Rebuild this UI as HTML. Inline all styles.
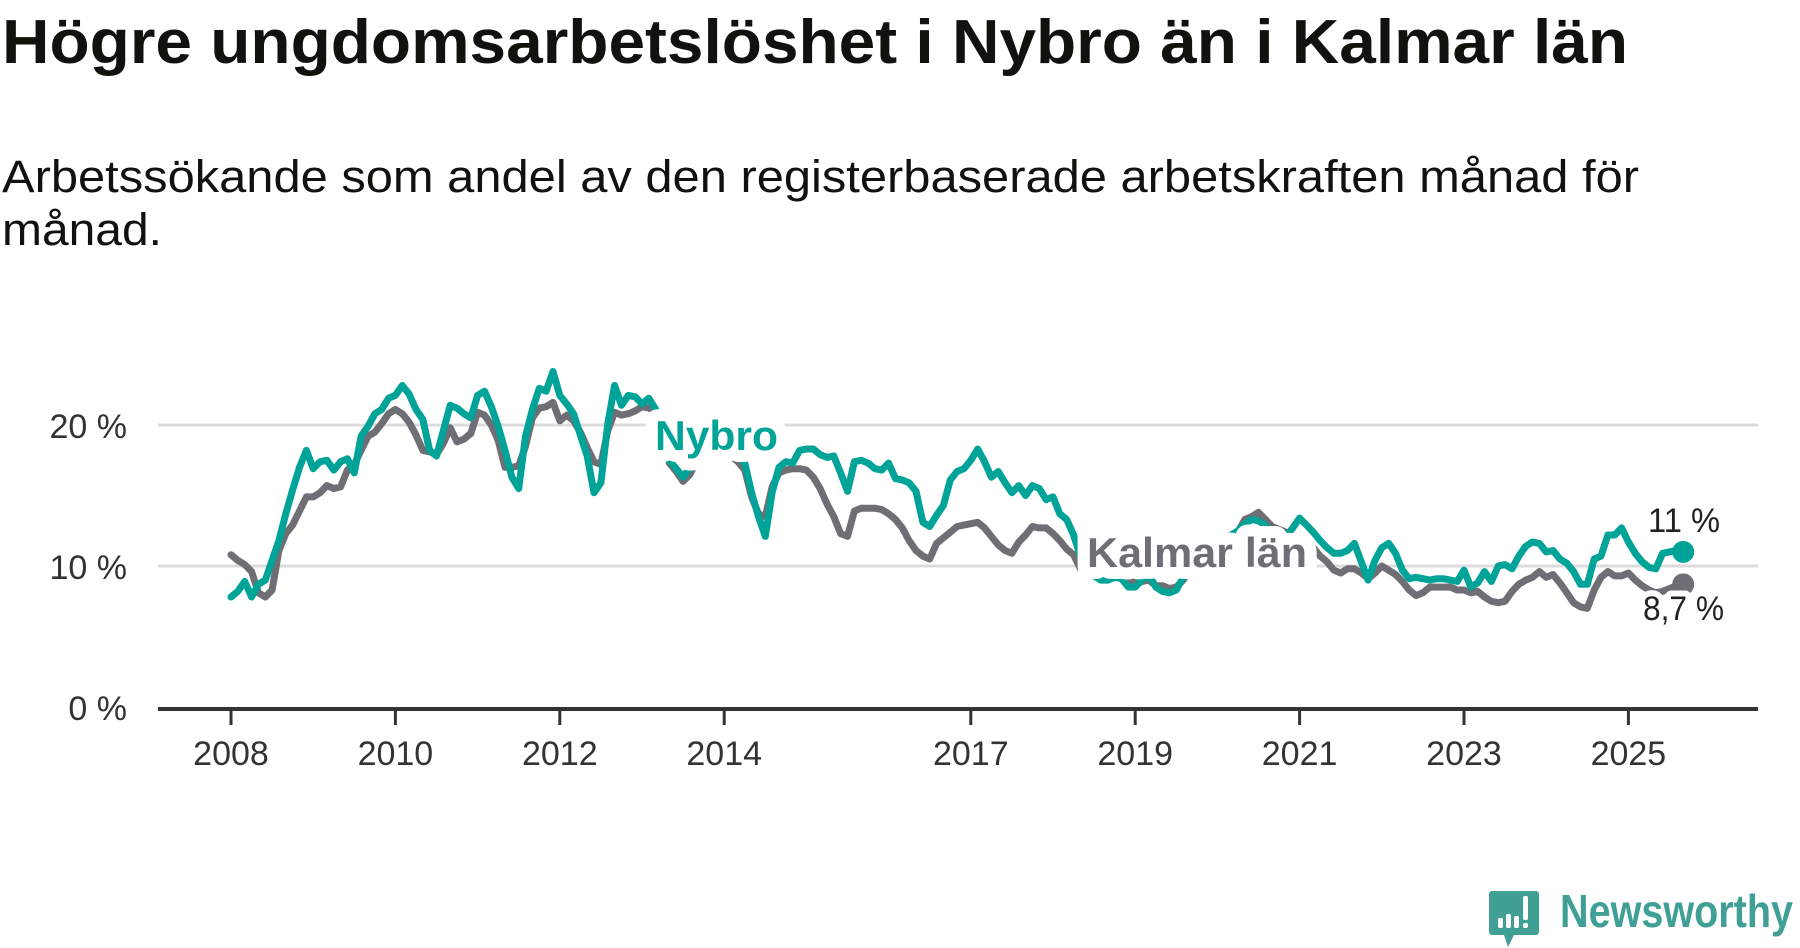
<!DOCTYPE html>
<html><head><meta charset="utf-8">
<style>
html,body{margin:0;padding:0;background:#fff;width:1800px;height:948px;overflow:hidden;}
svg{display:block;font-family:"Liberation Sans",sans-serif;}
</style></head>
<body>
<svg id="chart" width="1800" height="948" viewBox="0 0 1800 948">
  <text x="2" y="63" font-size="62" font-weight="bold" fill="#11110d" textLength="1626" lengthAdjust="spacingAndGlyphs">Högre ungdomsarbetslöshet i Nybro än i Kalmar län</text>
  <text x="2" y="192" font-size="45" fill="#11110d" textLength="1637" lengthAdjust="spacingAndGlyphs">Arbetssökande som andel av den registerbaserade arbetskraften månad för</text>
  <text x="2" y="245" font-size="45" fill="#11110d" textLength="160" lengthAdjust="spacingAndGlyphs">månad.</text>
  <g id="grid"></g>
  <g id="yticks"></g>
  <g id="xticks"></g>
  <g id="lines"></g>
  <g id="labels"></g>
  <g>
    <path d="M1492 891 h44 a3 3 0 0 1 3 3 v38 a3 3 0 0 1 -3 3 h-22 l-6 12 l-4 -12 h-12 a3 3 0 0 1 -3 -3 v-38 a3 3 0 0 1 3 -3z" fill="#41a096"/>
    <rect x="1498" y="918" width="5" height="10" rx="2" fill="#fff"/>
    <rect x="1506" y="914" width="5" height="14" rx="2" fill="#fff"/>
    <rect x="1514" y="916" width="5" height="12" rx="2" fill="#fff"/>
    <rect x="1523" y="896" width="5" height="24" rx="2" fill="#fff"/>
    <rect x="1523" y="923" width="5" height="5" rx="2" fill="#fff"/>
    <text x="1560" y="927" font-size="46" font-weight="bold" fill="#41a096" textLength="233" lengthAdjust="spacingAndGlyphs">Newsworthy</text>
  </g>
</svg>
<script>
const startYear = 2008;
const yTicks = [0, 10, 20];
const yTickLabels = ["0 %", "10 %", "20 %"];
const xTickYears = [2008, 2010, 2012, 2014, 2017, 2019, 2021, 2023, 2025];
const nybro = [7.8,8.2,8.9,7.8,8.7,9.0,10.4,11.8,13.7,15.4,17.0,18.2,16.9,17.4,17.5,16.8,17.4,17.6,16.6,19.2,19.9,20.8,21.1,21.9,22.1,22.8,22.2,21.1,20.4,18.2,17.8,19.6,21.4,21.2,20.8,20.5,22.1,22.4,21.3,19.9,18.2,16.3,15.5,
19.2,21.1,22.6,22.4,23.8,22.1,21.5,20.8,19.3,17.8,15.2,15.9,20.1,22.8,21.4,22.1,22.0,21.5,21.9,21.1,
19.5,17.5,16.9,16.3,17,18,18.5,18.5,18.3,18.0,18.0,17.8,
17.3,15.2,13.5,12.1,15.2,17.0,17.4,17.3,18.2,18.3,
18.3,17.9,17.7,17.8,16.6,15.3,17.4,17.5,17.3,16.9,16.8,17.3,16.2,16.1,15.9,15.3,13.1,12.8,13.6,14.3,16.1,16.7,16.9,17.5,18.3,17.4,16.3,16.7,15.9,15.2,15.7,15.0,15.7,15.5,14.7,14.9,13.7,13.3,12.2,10.7,
10.0,9.3,9.0,9.0,9.2,9.1,8.5,8.5,9.0,9.4,8.5,8.2,8.1,8.3,9.2,10.0,10.5,11.0,11.5,11.8,12.0,12.2,12.5,13.0,13.3,13.2,12.9,12.2,12.4,12.1,12.7,13.4,12.9,12.4,11.8,11.3,10.9,10.9,11.1,11.6,10.3,9.0,10.4,11.3,11.6,
10.9,9.7,9.1,9.2,9.1,9.0,9.1,9.1,9.0,8.9,9.7,8.5,8.8,9.6,8.9,10.0,10.1,9.8,10.7,11.4,11.7,11.6,11.0,11.1,10.5,10.2,9.6,8.7,8.7,10.5,10.7,12.2,12.2,12.7,11.7,10.9,10.3,9.9,9.8,10.9,11.0,11.1,11.0];
const kalmar = [10.8,10.4,10.1,9.6,8.1,7.8,8.3,11.1,12.3,12.9,13.9,14.9,14.9,15.2,15.7,15.5,15.6,16.8,17.2,18.2,19.2,19.5,20.1,20.8,21.1,20.8,20.2,19.3,18.2,18.1,17.9,18.7,19.8,18.8,19.0,19.4,20.9,20.7,20.0,18.9,17.0,17.0,17.1,
18.5,20.5,21.2,21.3,21.6,20.3,20.7,20.3,19.5,18.4,17.4,17.2,19.6,20.9,20.7,20.8,21.0,21.3,21.2,21.0,
19.5,17.3,16.7,16.0,16.5,17.5,18.2,18.4,18.4,18.0,17.8,17.4,
16.8,14.9,13.7,13.5,15.6,16.6,16.8,16.9,16.9,16.8,
16.3,15.5,14.4,13.5,12.3,12.1,13.9,14.1,14.1,14.1,14.0,13.7,13.3,12.7,11.8,11.1,10.7,10.5,11.6,12.0,12.4,12.8,12.9,13.0,13.1,12.7,12.1,11.5,11.1,10.9,11.7,12.2,12.8,12.7,12.7,12.3,11.8,11.2,10.8,9.8,
9.5,9.4,9.3,9.1,9.3,9.2,9.0,8.9,8.9,9.0,8.6,8.6,8.4,8.5,9.0,9.8,10.3,10.8,11.3,11.6,12.0,12.2,12.4,13.3,13.5,13.8,13.3,12.8,12.6,12.4,12.1,11.7,11.5,11.3,10.7,10.3,9.7,9.5,9.8,9.8,9.5,9.1,9.5,10.0,9.7,
9.4,8.9,8.3,7.9,8.1,8.5,8.5,8.5,8.5,8.3,8.3,8.1,8.2,7.8,7.5,7.4,7.5,8.2,8.7,9.0,9.2,9.6,9.2,9.4,8.8,8.1,7.4,7.1,7.0,8.3,9.2,9.6,9.3,9.3,9.5,9.0,8.6,8.3,8.1,8.2,8.4,8.6,8.7];
const endLabels = ["11 %", "8,7 %"];

const NS = "http://www.w3.org/2000/svg";
const X0 = 231, PX_PER_YEAR = 82.2, Y0 = 707, PX_PER_PCT = 14.1;
function xMonth(i){ return X0 + PX_PER_YEAR * i / 12; }
function xYear(y){ return X0 + PX_PER_YEAR * (y - startYear); }
function yVal(v){ return Y0 - PX_PER_PCT * v; }
function mk(tag, attrs, parent){ const e=document.createElementNS(NS,tag); for(const k in attrs) e.setAttribute(k, attrs[k]); parent.appendChild(e); return e; }

const grid=document.getElementById('grid'), yt=document.getElementById('yticks'), xt=document.getElementById('xticks');
yTicks.forEach((t,i)=>{
  if(t>0){
    const g=mk('line',{x1:158,x2:1758,y1:yVal(t),y2:yVal(t),stroke:'#dcdcdc','stroke-width':3},grid);
    
    
  }
  const l=mk('text',{x:127,y:yVal(t)+13,'font-size':34,fill:'#333','text-anchor':'end'},yt);
  l.textContent=yTickLabels[i];
  
  
});
const ax=mk('line',{x1:158,x2:1758,y1:Y0+2,y2:Y0+2,stroke:'#333','stroke-width':4},xt);


xTickYears.forEach(y=>{
  const tk=mk('line',{x1:xYear(y),x2:xYear(y),y1:Y0+2,y2:Y0+18,stroke:'#333','stroke-width':3},xt);
  
  
  const l=mk('text',{x:xYear(y),y:765,'font-size':34,fill:'#333','text-anchor':'middle'},xt);
  l.textContent=String(y);
  
  
});
const lines=document.getElementById('lines');
function drawSeries(arr,color,name){
  const d=arr.map((v,i)=>(i?'L':'M')+xMonth(i).toFixed(1)+' '+yVal(v).toFixed(1)).join(' ');
  const p=mk('path',{d:d,fill:'none',stroke:color,'stroke-width':7,'stroke-linejoin':'round','stroke-linecap':'round'},lines);
  
  
  const n=arr.length-1;
  const c=mk('circle',{cx:xMonth(n),cy:yVal(arr[n]),r:11,fill:color},lines);
  
  
}
drawSeries(kalmar,'#6f6e74','kalmar');
drawSeries(nybro,'#00a398','nybro');

const labels=document.getElementById('labels');
function lab(x,y,txt,size,weight,color,name,len,sw){
  const a={x:x,y:y,'font-size':size,'font-weight':weight,fill:color,stroke:'#fff','stroke-width':sw,'stroke-linejoin':'round','paint-order':'stroke'};
  if(len){a.textLength=len;a.lengthAdjust='spacingAndGlyphs';}
  const t=mk('text',a,labels);
  t.textContent=txt;
  
  
}
lab(655,450,'Nybro',42,'bold','#00a398','nybro-label',123,24);
lab(1087,567,'Kalmar län',42,'bold','#6f6e74','kalmar-label',220,24);
lab(1648,532,endLabels[0],34,'normal','#222','nybro-end-value',72,12);
lab(1643,620,endLabels[1],34,'normal','#222','kalmar-end-value',81,12);
</script>
</body></html>
